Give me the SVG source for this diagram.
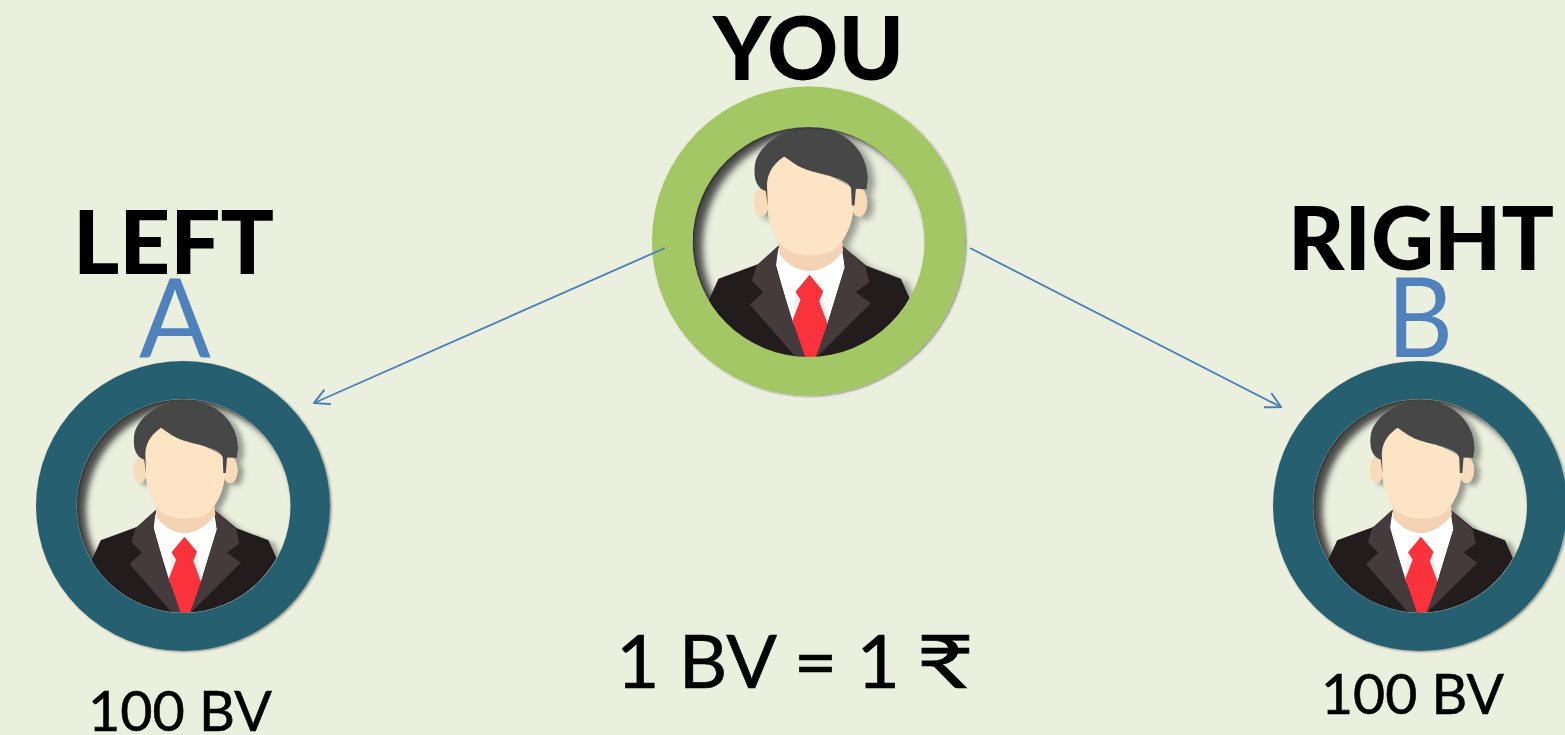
<svg xmlns="http://www.w3.org/2000/svg" xmlns:xlink="http://www.w3.org/1999/xlink" width="1565" height="735" viewBox="0 0 1565 735">
<style>
.lbl{font-family:"Lato","Open Sans","Liberation Sans",sans-serif;font-weight:900;fill:#000}
.let{font-family:"Lato","Open Sans","Liberation Sans",sans-serif;fill:#4f81bd}
.val{font-family:"Lato","Open Sans","Liberation Sans",sans-serif;fill:#000;stroke:#000;stroke-width:.6}
.conn{fill:none;stroke:#4a7ebb;stroke-width:1.8}
.green{fill:#a4c765;fill-rule:evenodd;filter:url(#ringShadow)}
.teal{fill:#276170;fill-rule:evenodd;filter:url(#ringShadow)}
</style>
<defs>
<filter id="ringShadow" x="-10%" y="-10%" width="120%" height="120%"><feDropShadow dx="1.500" dy="1" stdDeviation="1.200" flood-color="#000" flood-opacity=".4"/></filter>
<filter id="blur" x="-20%" y="-20%" width="140%" height="140%"><feGaussianBlur stdDeviation="11"/></filter>
<filter id="personShadow" x="-10%" y="-10%" width="125%" height="125%"><feDropShadow dx="20" dy="10" stdDeviation="9" flood-color="#000" flood-opacity=".35"/></filter>
<clipPath id="inner"><circle cx="508" cy="483" r="348"/></clipPath>
<marker id="open" viewBox="0 0 20 20" refX="19" refY="10" markerWidth="20" markerHeight="20" markerUnits="userSpaceOnUse" orient="auto"><path d="M4,2 L19,10 L4,18" fill="none" stroke="#4a7ebb" stroke-width="2"/></marker>
<g id="avatar" transform="scale(.33333) translate(-508,-483)">
<g clip-path="url(#inner)">
<circle cx="532" cy="498" r="372" fill="none" stroke="#3c3c3c" stroke-opacity=".9" stroke-width="60" filter="url(#blur)"/>
<g filter="url(#personShadow)">
<path fill="#211b1c" d="M195,690 L238,595 L360,550 L420,495 L608,495 L680,555 L785,595 L812,655 L812,880 L195,880Z"/>
<path fill="#fff" d="M420,495 L408,545 L460,730 L565,730 L617,560 L607,495Z"/>
<path fill="#eef0f2" d="M470,640 L458,720 L480,760 L545,760 L570,715 L552,650 L510,600Z"/>
<path fill="#453b3d" d="M418,495 L352,555 L338,600 L372,635 L332,672 L470,830 L498,830 L460,720 L410,560Z"/>
<path fill="#453b3d" d="M610,497 L680,560 L690,605 L650,635 L695,668 L532,830 L540,790 L565,730 L617,560Z"/>
<path fill="#f9303a" d="M511,583 L552,632 L540,662 L565,730 L530,830 L498,830 L460,720 L484,658 L469,634Z"/>
<path fill="#f4d3b4" d="M420,470 L420,520 C450,560 480,570 512,572 C550,570 590,545 612,510 L605,460Z"/>
<ellipse cx="366" cy="365" rx="23" ry="42" fill="#f8dcba"/>
<ellipse cx="660" cy="366" rx="24" ry="42" fill="#f8dcba"/>
<path fill="#fde4c4" d="M385,290 C395,255 420,235 436,228 L530,265 L636,320 L642,380 C640,430 620,470 592,502 C560,532 470,532 432,500 C405,470 385,420 385,370Z"/>
<path fill="#474747" d="M386,378 L380,332 C350,322 343,290 347,255 C352,205 420,140 515,140 C620,140 686,215 686,295 L682,326 L650,325 L646,375 L638,375 L636,325 C630,295 560,285 510,270 C480,262 455,242 435,228 C410,245 386,270 383,312Z"/>
</g>
</g>
</g>
</defs>
<rect width="1565" height="735" fill="#ebf0de"/>
<g id="node-you">
<use xlink:href="#avatar" href="#avatar" transform="translate(808.500,241.500)"/>
<path class="green" d="M652,241a156.500,154.500 0 1 0 313,0a156.500,154.500 0 1 0 -313,0ZM692.500,242a116,115 0 1 1 232,0a116,115 0 1 1 -232,0Z"/>
<text class="lbl" x="713" y="80" font-size="88" textLength="191" lengthAdjust="spacingAndGlyphs">YOU</text>
</g>
<g id="node-left">
<use xlink:href="#avatar" href="#avatar" transform="translate(183.500,506) scale(.92)"/>
<path class="teal" d="M36,506a147,145 0 1 0 294,0a147,145 0 1 0 -294,0ZM76.500,506a107,107 0 1 1 214,0a107,107 0 1 1 -214,0Z"/>
<text class="lbl" x="73" y="274" font-size="88" textLength="201" lengthAdjust="spacingAndGlyphs">LEFT</text>
<text class="let" x="139" y="358" font-size="110" textLength="72" lengthAdjust="spacingAndGlyphs">A</text>
<text class="val" x="88" y="731" font-size="57" textLength="184" lengthAdjust="spacingAndGlyphs">100 BV</text>
</g>
<g id="node-right">
<use xlink:href="#avatar" href="#avatar" transform="translate(1420,506) scale(.92)"/>
<path class="teal" d="M1273,506a147,145 0 1 0 294,0a147,145 0 1 0 -294,0ZM1313,506a107,107 0 1 1 214,0a107,107 0 1 1 -214,0Z"/>
<text class="lbl" x="1288" y="270" font-size="88" textLength="266" lengthAdjust="spacingAndGlyphs">RIGHT</text>
<text class="let" x="1387" y="357" font-size="110" textLength="66" lengthAdjust="spacingAndGlyphs">B</text>
<text class="val" x="1321" y="714" font-size="57" textLength="183" lengthAdjust="spacingAndGlyphs">100 BV</text>
</g>
<g id="rate">
<text class="val" x="616" y="688" font-size="74" textLength="284" lengthAdjust="spacingAndGlyphs">1 BV = 1</text>
<text class="val" x="916" y="688" font-size="74" textLength="58" lengthAdjust="spacingAndGlyphs">₹</text>
</g>
<g id="connectors">
<line class="conn" x1="665" y1="248" x2="314" y2="403" marker-end="url(#open)"/>
<line class="conn" x1="970" y1="248" x2="1281" y2="407" marker-end="url(#open)"/>
</g>
</svg>
